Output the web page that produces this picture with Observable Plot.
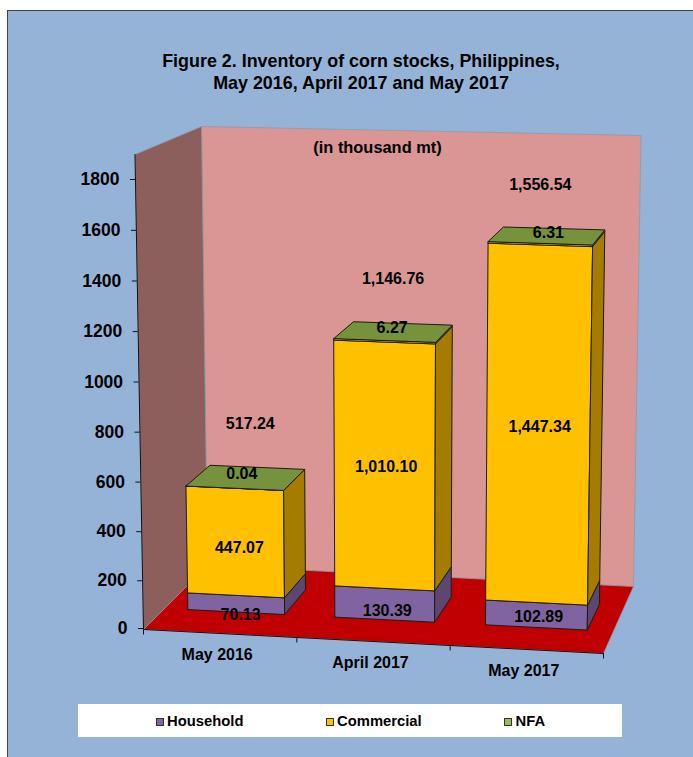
<!DOCTYPE html>
<html>
<head>
<meta charset="utf-8">
<script src="https://cdn.jsdelivr.net/npm/d3@7"></script>
<script src="https://cdn.jsdelivr.net/npm/@observablehq/plot@0.6"></script>
<style>
  html, body { margin: 0; padding: 0; background: #fff; }
  #chart { position: relative; width: 693px; height: 757px; overflow: hidden; font-family: "Liberation Sans", Arial, sans-serif; color: #000; }
  #panel { position: absolute; left: 7px; top: 10px; right: -4px; bottom: -4px; background: #95B3D7; border: 1.5px solid #3b4450; }
  #chart svg { position: absolute; left: 0; top: 0; }
  #title { position: absolute; left: 61px; width: 600px; top: 50px; text-align: center; font-weight: bold; font-size: 17.9px; line-height: 22px; }
  #legend { position: absolute; left: 78px; top: 704px; width: 544px; height: 33px; background: #fff; font-weight: bold; font-size: 14.8px; }
  #legend span { position: absolute; top: 9px; line-height: 17px; }
  #legend i { position: absolute; top: 13.5px; width: 6px; height: 6px; border: 1.2px solid #333; }
</style>
</head>
<body>
<div id="chart">
  <div id="panel"></div>
  <div id="title">Figure 2. Inventory of corn stocks, Philippines,<br>May 2016, April 2017 and May 2017</div>
</div>
<script>
// Stock values, thousand metric tons
const periods = ["May 2016", "April 2017", "May 2017"];
const household = [70.13, 130.39, 102.89];
const commercial = [447.07, 1010.10, 1447.34];
const nfa = [0.04, 6.27, 6.31];
const totals = [517.24, 1146.76, 1556.54];
const yTicks = [0, 200, 400, 600, 800, 1000, 1200, 1400, 1600, 1800];

// Face colours per series
const seriesNames = ["Household", "Commercial", "NFA"];
const frontColors = ["#8064A2", "#FFC000", "#FFC000"];
const sideColors = ["#5B4772", "#A67C00", "#A67C00"];
const topColor = "#76923C";
const legendColors = ["#8064A2", "#FFC000", "#9BBB59"];

// Oblique view of the chart box: corners on the floor and at the ceiling
const vMax = 1900, perspective = 1.03;
const box = {
  floor: {fl: [143, 629], fr: [603, 653], bl: [207, 565], br: [633, 586]},
  ceil: {fl: [134.5, 154], fr: [610.5, 169], bl: [201, 126], br: [640.5, 135]}
};
const yScale = d3.scalePow().exponent(1.02).domain([0, 1800]).range([628, 179]);

const mix = (a, b, t) => [a[0] + (b[0] - a[0]) * t, a[1] + (b[1] - a[1]) * t];
function project(u, v, d) {
  const t = v / vMax, s = t / (t + (1 - t) * perspective);
  const at = (c) => mix(mix(c.fl, c.fr, u / 3), mix(c.bl, c.br, u / 3), d);
  return mix(at(box.floor), at(box.ceil), s);
}
function place(u, v, d, dx = 0, dy = 0) {
  const [x, y] = project(u, v, d);
  return {x: x + dx, y: yScale.invert(y + dy)};
}

// Bar footprint within each category slot and within the floor depth
const barStarts = [0.155, 0.138, 0.145], barWidths = [0.647, 0.667, 0.68];
const depthFront = 0.33, depthBack = 0.71;

let faceId = 0;
const faces = [];
function addFace(fill, corners) {
  const id = faceId++;
  [...corners, corners[0]].forEach(([u, v, d]) => faces.push({id, fill, ...place(u, v, d)}));
}
// Walls and floor of the box
addFace("#D99694", [[0, 0, 1], [3, 0, 1], [3, vMax, 1], [0, vMax, 1]]);
addFace("#8C5F5D", [[0, 0, 0], [0, 0, 1], [0, vMax, 1], [0, vMax, 0]]);
addFace("#C00000", [[0, 0, 0], [3, 0, 0], [3, 0, 1], [0, 0, 1]]);
const shellFaces = faces.splice(0);

// Stacked bars, bottom segment first
periods.forEach((_, i) => {
  const u0 = i + barStarts[i], u1 = u0 + barWidths[i];
  let base = 0;
  [household[i], commercial[i], nfa[i]].forEach((value, k) => {
    const top = base + value;
    addFace(frontColors[k], [[u0, base, depthFront], [u1, base, depthFront], [u1, top, depthFront], [u0, top, depthFront]]);
    addFace(sideColors[k], [[u1, base, depthFront], [u1, base, depthBack], [u1, top, depthBack], [u1, top, depthFront]]);
    base = top;
  });
  addFace(topColor, [[u0, base, depthFront], [u1, base, depthFront], [u1, base, depthBack], [u0, base, depthBack]]);
});

// Label offsets from the middle of each bar's front face, in pixels
const householdShift = [[4.5, 11], [2.5, 7], [2.2, 2]];
const commercialShift = [[4, 6], [1.5, 1], [1.2, 1]];
const nfaShift = [[7, -14], [7.5, -12.5], [8, -10.5]];
const totalShift = [[15.5, -64], [8.5, -61.5], [0, -58.5]];

const fmt = d3.format(",.2f");
const centre = (i) => i + barStarts[i] + barWidths[i] / 2;
const valueLabels = [];
periods.forEach((_, i) => {
  const h = household[i], c = commercial[i];
  const add = (value, v, [dx, dy]) => valueLabels.push({text: fmt(value), ...place(centre(i), v, depthFront, dx, dy)});
  add(h, h / 2, householdShift[i]);
  add(c, h + c / 2, commercialShift[i]);
  add(nfa[i], totals[i], nfaShift[i]);
  add(totals[i], totals[i], totalShift[i]);
});

const axisX = (v) => project(0, v, 0)[0];
const slotTicks = [0, 1, 2, 3];
const bold = {fontWeight: "bold", fill: "#000"};

const chart = Plot.plot({
  width: 693,
  height: 757,
  margin: 0,
  style: {background: "transparent", fontFamily: '"Liberation Sans", Arial, sans-serif', overflow: "visible"},
  x: {domain: [0, 693], axis: null},
  y: {type: "pow", exponent: 1.02, domain: [0, 1800], range: [628, 179]},
  marks: [
    Plot.line(shellFaces, {x: "x", y: "y", z: "id", fill: "fill", stroke: "#8d9aa6", strokeWidth: 0.8}),
    // Axis lines along the near edges of the box
    Plot.line([place(0, vMax, 0), place(0, 0, 0), place(3, 0, 0)], {x: "x", y: "y", stroke: "#111", strokeWidth: 1}),
    Plot.link(slotTicks, {
      x1: (u) => place(u, 0, 0).x,
      y1: (u) => place(u, 0, 0).y,
      x2: (u) => place(u, 0, 0).x,
      y2: (u) => place(u, 0, 0, 0, 5).y,
      stroke: "#111"
    }),
    Plot.axisY(yTicks, {
      x: axisX,
      tickSize: 5,
      tickPadding: 11,
      tickFormat: "d",
      label: null,
      stroke: "#111",
      fontSize: 17.5,
      ...bold
    }),
    Plot.line(faces, {x: "x", y: "y", z: "id", fill: "fill", stroke: "#1c1c10", strokeWidth: 1, strokeLinejoin: "round"}),
    Plot.text(valueLabels, {x: "x", y: "y", text: "text", fontSize: 16, ...bold}),
    Plot.text(periods, {
      x: (_, i) => place(i + 0.5, 0, 0, -3, 21).x,
      y: (_, i) => place(i + 0.5, 0, 0, -3, 21).y,
      text: (d) => d,
      fontSize: 16,
      ...bold
    }),
    Plot.text(["(in thousand mt)"], {
      x: () => 377,
      y: () => yScale.invert(147),
      text: (d) => d,
      fontSize: 16.4,
      ...bold
    })
  ]
});
const host = document.getElementById("chart");
host.insertBefore(chart, document.getElementById("title"));

// Legend strip inside the panel
const legend = document.createElement("div");
legend.id = "legend";
const swatchLeft = [77.5, 247.5, 426];
seriesNames.forEach((name, k) => {
  const sw = document.createElement("i");
  sw.style.left = swatchLeft[k] + "px";
  sw.style.background = legendColors[k];
  const label = document.createElement("span");
  label.style.left = swatchLeft[k] + 11.5 + "px";
  label.textContent = name;
  legend.append(sw, label);
});
host.appendChild(legend);
</script>
</body>
</html>
